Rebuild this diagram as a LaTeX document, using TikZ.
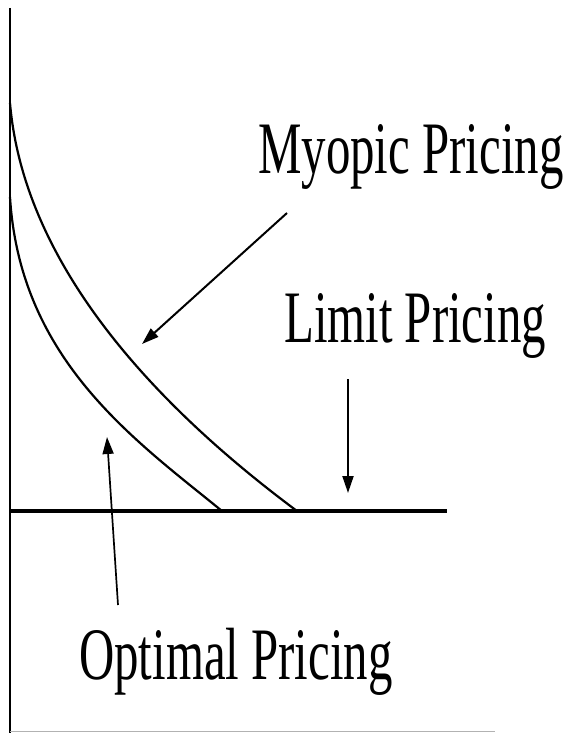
\documentclass[tikz,border=0pt]{standalone}
\usepackage{fontspec}
\setmainfont{Liberation Serif}
\usetikzlibrary{arrows.meta}
\tikzset{
  curve/.style={line width=2.2pt, line join=round},
  pointer/.style={line width=2pt, -{Triangle[length=17pt,width=11pt]}},
  lbl/.style={inner sep=0pt, anchor=base west},
}
\newcommand{\biglabel}[1]{\scalebox{0.66}[1]{\fontsize{74}{80}\selectfont #1}}
\begin{document}
\begin{tikzpicture}[x=1pt,y=-1pt]
\useasboundingbox (0,0) rectangle (572,733);
% axes
\draw[line width=1.3pt] (10,8) -- (10,733);
\draw[line width=1pt, gray!60] (10,731) -- (495,731);
\draw[line width=4pt] (10,511) -- (447,511);
% curves
\coordinate (m0) at (10,103);
\coordinate (m1) at (297,511);
\coordinate (o0) at (10,197);
\coordinate (o1) at (222,511);
\draw[curve] (m0) .. controls (25,280) and (180,424) .. (m1);
\draw[curve] (o0) .. controls (20,360) and (135,440) .. (o1);
% labels
\node[lbl] (myopic) at (258,173) {\biglabel{Myopic Pricing}};
\node[lbl] (limit) at (284,342) {\biglabel{Limit Pricing}};
\node[lbl] (optimal) at (79,679) {\biglabel{Optimal Pricing}};
% arrow endpoints
\coordinate (mstart) at (287,213);
\coordinate (mtip) at (142,344);
\coordinate (lstart) at (348,379);
\coordinate (ltip) at (348,493);
\coordinate (ostart) at (118,605);
\coordinate (otip) at (107,437);
\draw[pointer] (mstart) -- (mtip);
\draw[pointer] (lstart) -- (ltip);
\draw[pointer, line width=1.7pt] (ostart) -- (otip);
\end{tikzpicture}
\end{document}
